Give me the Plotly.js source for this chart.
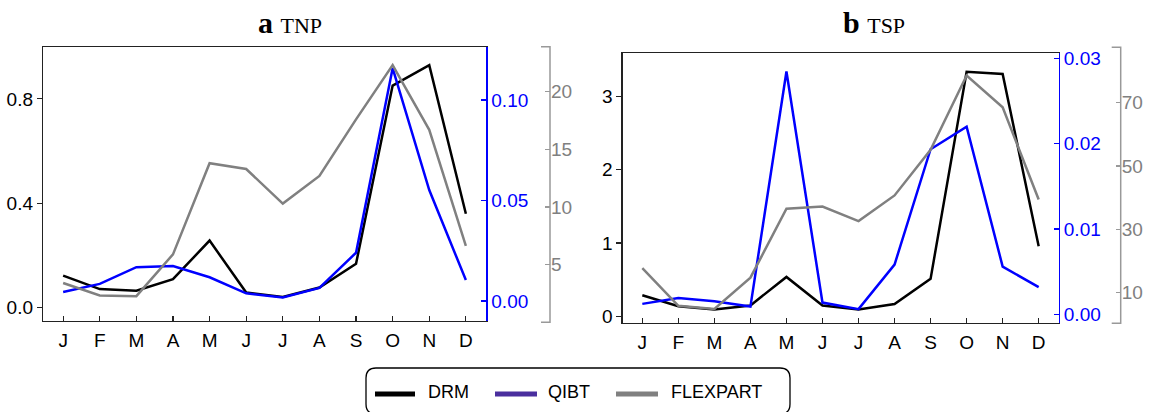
<!DOCTYPE html>
<html>
<head>
<meta charset="utf-8">
<script src="https://cdn.plot.ly/plotly-3.0.1.min.js"></script>
<style>html,body{margin:0;padding:0;background:#fff;}#chart{width:1151px;height:412px;}</style>
</head>
<body>
<div id="chart"></div>
<script>
// ---- data ----
const months = ['J','F','M','A','M ','J ','J  ','A ','S','O','N','D'];
const monthLabels = ['J','F','M','A','M','J','J','A','S','O','N','D'];

const tnpDRM      = [0.123, 0.071, 0.065, 0.109, 0.257, 0.058, 0.041, 0.077, 0.168, 0.851, 0.929, 0.360];
const tnpQIBT     = [0.0045, 0.0085, 0.0168, 0.0174, 0.0118, 0.0038, 0.0018, 0.0065, 0.0240, 0.1158, 0.0552, 0.0104];
const tnpFLEXPART = [3.42, 2.33, 2.28, 5.9, 13.8, 13.3, 10.3, 12.7, 17.6, 22.3, 16.7, 6.64];

const tspDRM      = [0.286, 0.136, 0.091, 0.146, 0.536, 0.146, 0.091, 0.164, 0.509, 3.34, 3.31, 0.955];
const tspQIBT     = [0.00121, 0.00191, 0.00153, 0.00089, 0.0285, 0.00136, 0.00059, 0.00582, 0.01937, 0.0220, 0.00559, 0.00317];
const tspFLEXPART = [17.8, 5.9, 4.9, 14.75, 36.5, 37.2, 32.6, 40.7, 55.1, 78.5, 68.5, 39.4];

const seriesNames = ['DRM', 'QIBT', 'FLEXPART'];
const lineColors = ['#000000', '#0000ff', '#808080'];
const legendColors = ['#000000', '#4a2f9e', '#808080'];

const tnpLeftTicks = [0.0, 0.4, 0.8];
const tnpBlueTicks = [0.00, 0.05, 0.10];
const tnpGrayTicks = [5, 10, 15, 20];
const tspLeftTicks = [0, 1, 2, 3];
const tspBlueTicks = [0.00, 0.01, 0.02, 0.03];
const tspGrayTicks = [10, 30, 50, 70];

// ---- geometry helpers (pixel -> paper) ----
const W = 1151, H = 412;
const px = v => v / W;
const py = v => 1 - v / H;

const FONT = 'Liberation Sans, Arial, sans-serif';
const FS = 19;
const tickFont = {family: FONT, size: FS, color: '#000'};
const spine = '#222';

function xAxis(domain) {
  return {
    domain: domain, range: [-0.55, 11.55], type: 'category',
    categoryorder: 'array', categoryarray: months,
    tickvals: months, ticktext: monthLabels,
    showline: true, mirror: true, linecolor: spine, linewidth: 1.2,
    ticks: 'inside', ticklen: 5, tickcolor: spine, tickwidth: 1.2,
    tickfont: tickFont, showgrid: false, zeroline: false, fixedrange: true,
    ticklabelstandoff: 2
  };
}
function leftY(domain, anchor, range, tv, fmt) {
  return {
    domain: domain, anchor: anchor, range: range,
    tickvals: tv, ticktext: tv.map(v => fmt(v)),
    showline: true, linecolor: spine, linewidth: 1.2,
    ticks: 'outside', ticklen: 5, tickcolor: spine, tickwidth: 1.2,
    tickfont: tickFont, showgrid: false, zeroline: false
  };
}
function blueY(over, anchor, range, tv, fmt) {
  return {
    overlaying: over, anchor: anchor, side: 'right', range: range,
    tickvals: tv, ticktext: tv.map(v => fmt(v)),
    showline: true, linecolor: '#0000ff', linewidth: 1.5,
    ticks: 'inside', ticklen: 5, tickcolor: '#0000ff', tickwidth: 1.2,
    tickfont: {family: FONT, size: FS, color: '#0000ff'},
    showgrid: false, zeroline: false
  };
}
function grayY(over, pos, range, tv) {
  return {
    overlaying: over, anchor: 'free', position: pos, side: 'right', range: range,
    tickvals: tv, ticktext: tv.map(v => String(v)),
    showline: false,
    ticks: 'inside', ticklen: 5, tickcolor: '#999', tickwidth: 1.2,
    tickfont: {family: FONT, size: FS, color: '#808080'},
    showgrid: false, zeroline: false
  };
}

const f1 = v => v.toFixed(1);
const f2 = v => v.toFixed(2);
const f0 = v => String(v);

function tr(y, xa, ya, i) {
  return {x: months, y: y, xaxis: xa, yaxis: ya, type: 'scatter', mode: 'lines',
          line: {color: lineColors[i], width: 2.5}, showlegend: false,
          name: seriesNames[i], hoverinfo: 'skip'};
}

const data = [
  tr(tnpDRM, 'x', 'y', 0),
  tr(tnpQIBT, 'x', 'y2', 1),
  tr(tnpFLEXPART, 'x', 'y3', 2),
  tr(tspDRM, 'x2', 'y4', 0),
  tr(tspQIBT, 'x2', 'y5', 1),
  tr(tspFLEXPART, 'x2', 'y6', 2)
];

const d1y = [py(320.7), py(46.7)];
const d2y = [py(322.7), py(52.7)];

const layout = {
  width: W, height: H,
  margin: {l: 0, r: 0, t: 0, b: 0},
  paper_bgcolor: '#fff', plot_bgcolor: 'rgba(0,0,0,0)',
  showlegend: false,
  xaxis: Object.assign(xAxis([px(43), px(486)]), {anchor: 'y'}),
  yaxis: leftY(d1y, 'x', [-0.05, 1.0], tnpLeftTicks, f1),
  yaxis2: blueY('y', 'x', [-0.0098, 0.1265], tnpBlueTicks, f2),
  yaxis3: grayY('y', px(550), [0.15, 23.9], tnpGrayTicks),
  xaxis2: Object.assign(xAxis([px(622.5), px(1058.5)]), {anchor: 'y4'}),
  yaxis4: leftY(d2y, 'x2', [-0.09, 3.6], tspLeftTicks, f0),
  yaxis5: blueY('y4', 'x2', [-0.001, 0.0307], tspBlueTicks, f2),
  yaxis6: grayY('y4', px(1120.7), [0.56, 85.7], tspGrayTicks),
  shapes: [],
  annotations: []
};

// gray spines with end caps
function graySpine(x, top, bot) {
  layout.shapes.push({type: 'path', xref: 'paper', yref: 'paper',
    path: `M ${px(x - 9)},${py(top)} L ${px(x)},${py(top)} L ${px(x)},${py(bot)} L ${px(x - 9)},${py(bot)}`,
    line: {color: '#999', width: 1.5}});
}
graySpine(550, 46.7, 322.3);
graySpine(1120.7, 47.3, 323.3);

// titles
function title(x, letter, name) {
  layout.annotations.push({xref: 'paper', yref: 'paper', x: px(x), y: py(35), xanchor: 'center', yanchor: 'bottom',
    showarrow: false, yshift: -6,
    text: `<b>${letter}</b> <span style="font-size:22px">${name}</span>`,
    font: {family: 'Liberation Serif, Times New Roman, serif', size: 30, color: '#000'}});
}
title(290, 'a', 'TNP');
title(874, 'b', 'TSP');

// custom legend box
(function () {
  const L = 366, R = 790, T = 368, B = 414, r = 10;
  layout.shapes.push({type: 'path', xref: 'paper', yref: 'paper',
    path: `M ${px(L)},${py(B - r)} L ${px(L)},${py(T + r)} Q ${px(L)},${py(T)} ${px(L + r)},${py(T)} ` +
          `L ${px(R - r)},${py(T)} Q ${px(R)},${py(T)} ${px(R)},${py(T + r)} L ${px(R)},${py(B - r)} ` +
          `Q ${px(R)},${py(B)} ${px(R - r)},${py(B)} L ${px(L + r)},${py(B)} Q ${px(L)},${py(B)} ${px(L)},${py(B - r)} Z`,
    line: {color: '#000', width: 1.3}, fillcolor: 'rgba(0,0,0,0)'});
  const lineX = [[375, 415], [495, 537], [616, 658]];
  const textX = [426, 546, 669];
  for (let i = 0; i < 3; i++) {
    layout.shapes.push({type: 'line', xref: 'paper', yref: 'paper',
      x0: px(lineX[i][0]), x1: px(lineX[i][1]), y0: py(394), y1: py(394),
      line: {color: legendColors[i], width: 5}});
    layout.annotations.push({xref: 'paper', yref: 'paper', x: px(textX[i]), y: py(392),
      xanchor: 'left', yanchor: 'middle', showarrow: false, text: seriesNames[i],
      font: {family: FONT, size: 18, color: '#000'}});
  }
})();

Plotly.newPlot('chart', data, layout, {staticPlot: true, displayModeBar: false});
</script>
</body>
</html>
